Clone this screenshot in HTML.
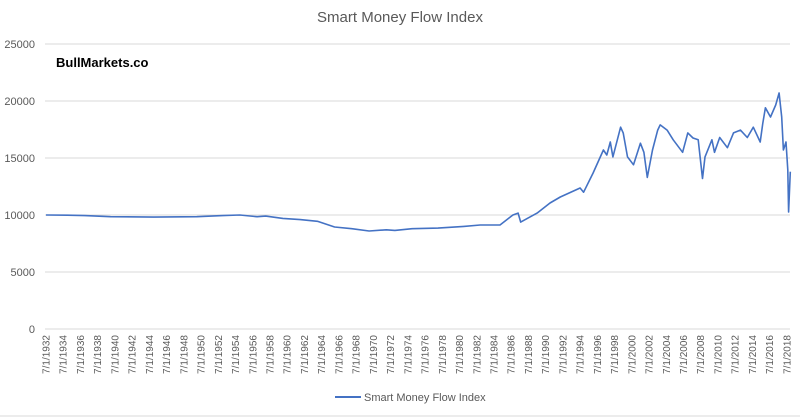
<!DOCTYPE html>
<html><head><meta charset="utf-8"><style>
html,body{margin:0;padding:0;background:#fff;}
svg{display:block;font-family:"Liberation Sans",Calibri,sans-serif;}
</style></head><body>
<svg width="800" height="417" viewBox="0 0 800 417">
<rect x="0" y="0" width="800" height="417" fill="#fff"/>
<line x1="0" y1="416" x2="800" y2="416" stroke="#d9d9d9"/>
<text x="400" y="22" text-anchor="middle" font-size="15" fill="#595959">Smart Money Flow Index</text>
<text x="56" y="67" font-size="13" font-weight="bold" fill="#000">BullMarkets.co</text>
<g id="grid"></g>
<g id="yax"></g>
<g id="xax"></g>
<g id="series"></g>
<g>
<line x1="335" y1="397" x2="361" y2="397" stroke="#4472c4" stroke-width="2"/>
<text x="364" y="401" font-size="11" fill="#595959">Smart Money Flow Index</text>
</g>
</svg>
<script>
const yTicks=[0,5000,10000,15000,20000,25000];
const xTickYears=[];for(let y=1932;y<=2018;y+=2)xTickYears.push(y);
const years=[1932.5,1935,1937,1940,1945,1950,1953,1955,1957,1958,1960,1962,1964,1966,1968,1970,1972,1973,1975,1978,1981,1982.9,1985.2,1986.7,1987.3,1987.6,1989.5,1991,1992.2,1994.5,1994.9,1996.0,1997.2,1997.6,1998,1998.3,1999.2,1999.5,2000,2000.7,2001.5,2001.9,2002.3,2002.9,2003.5,2003.8,2004.6,2005.3,2006.4,2007,2007.6,2008.2,2008.7,2009.0,2009.8,2010.1,2010.7,2011.6,2012.3,2013.1,2013.9,2014.6,2015.4,2015.7,2016,2016.6,2017.2,2017.6,2017.9,2018.1,2018.4,2018.6,2018.7,2018.9];
const values=[10000,9980,9950,9850,9820,9850,9950,10000,9850,9900,9700,9600,9450,8950,8800,8600,8700,8650,8800,8850,9000,9120,9120,10000,10170,9380,10170,11050,11580,12370,12000,13680,15700,15260,16400,15100,17700,17200,15100,14400,16300,15500,13300,15700,17450,17900,17450,16600,15500,17200,16750,16600,13200,15100,16600,15500,16800,15900,17200,17450,16800,17700,16400,18050,19400,18600,19650,20700,18600,15700,16400,13950,10260,13800];
const NS='http://www.w3.org/2000/svg';
const y0=329,pxPer=(329-44)/25000;
const yS=v=>y0-v*pxPer;
const xS=yr=>46+(yr-1932.5)*8.615;
const grid=document.getElementById('grid'),yax=document.getElementById('yax'),xax=document.getElementById('xax'),ser=document.getElementById('series');
yTicks.forEach(t=>{
 const l=document.createElementNS(NS,'line');
 l.setAttribute('x1',45);l.setAttribute('x2',790);l.setAttribute('y1',yS(t));l.setAttribute('y2',yS(t));
 l.setAttribute('stroke','#d9d9d9');l.setAttribute('stroke-width',1);
 
 
 grid.appendChild(l);
 const tx=document.createElementNS(NS,'text');
 tx.setAttribute('x',35);tx.setAttribute('y',yS(t)+4);tx.setAttribute('text-anchor','end');
 tx.setAttribute('font-size','11');tx.setAttribute('fill','#595959');tx.textContent=t;
 
 
 yax.appendChild(tx);
});
xTickYears.forEach(yr=>{
 const x=xS(yr+0.5)+3.5;
 const tx=document.createElementNS(NS,'text');
 tx.setAttribute('transform','translate('+x+',335) rotate(-90)');
 tx.setAttribute('text-anchor','end');tx.setAttribute('font-size','10');tx.setAttribute('fill','#595959');
 tx.textContent='7/1/'+yr;
 
 
 xax.appendChild(tx);
});
const pl=document.createElementNS(NS,'polyline');
pl.setAttribute('points',years.map((yr,i)=>xS(yr).toFixed(1)+','+yS(values[i]).toFixed(1)).join(' '));
pl.setAttribute('fill','none');pl.setAttribute('stroke','#4472c4');pl.setAttribute('stroke-width','1.6');pl.setAttribute('stroke-linejoin','round');


ser.appendChild(pl);
</script>
</body></html>
